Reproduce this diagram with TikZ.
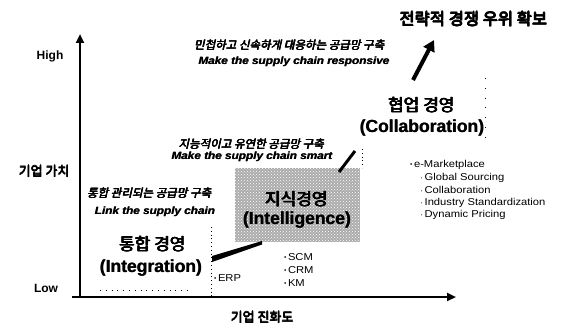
\documentclass[tikz,border=0pt]{standalone}
\usepackage{fontspec}
\setmainfont{Liberation Sans}
\newfontfamily\krb{Noto Sans CJK KR}
\newfontfamily\enwide[FakeStretch=1.12]{Liberation Sans}
\usetikzlibrary{arrows.meta,patterns}
\newcommand\mybul{{\fontsize{6}{6}\selectfont\raisebox{0.8pt}{•}}\,}
\newcommand\mydot{{\fontsize{8}{8}\selectfont ·}\,}
% overprinted (heavier) text
\newcommand\obold[1]{\rlap{#1}\kern0.55pt\rlap{#1}\kern-0.3pt\raisebox{0.3pt}{\rlap{#1}}\kern-0.25pt#1}
\newcommand\hbold[1]{\rlap{#1}\kern0.9pt\rlap{#1}\kern-0.45pt\raisebox{0.45pt}{\rlap{#1}}\raisebox{-0.2pt}{\rlap{#1}}\kern-0.45pt#1}
\newcommand\lbold[1]{\rlap{#1}\kern0.45pt#1}
% slanted text
\newcommand\slanttext[1]{\tikz[baseline=(sl.base)]\node[xslant=0.22,transform shape,inner sep=0pt,outer sep=0pt](sl){#1};}
\begin{document}
\begin{tikzpicture}[x=1pt,y=-1pt,
  every node/.style={inner sep=0pt,outer sep=0pt},
  axislbl/.style={font=\bfseries\fontsize{12}{12}\selectfont},
  krlbl/.style={font=\krb\fontsize{13}{13}\selectfont},
  stagekr/.style={font=\krb\fontsize{17}{17}\selectfont},
  stageen/.style={font=\bfseries\fontsize{17.5}{17.5}\selectfont},
  goalkr/.style={font=\krb\fontsize{11.5}{11.5}\selectfont},
  goalen/.style={font=\enwide\bfseries\itshape\fontsize{10.5}{10.5}\selectfont},
  listitem/.style={font=\enwide\fontsize{10}{10}\selectfont,anchor=west},
  axisline/.style={line width=2.4pt,-{Triangle[length=9pt,width=8pt]}},
  divider/.style={line width=0.7pt,dash pattern=on 0.8pt off 3pt},
  sparse/.style={line width=0.8pt,dash pattern=on 0.8pt off 9pt},
]
\useasboundingbox (0,0) rectangle (565,326);

% axes
\coordinate (o) at (80,297);
\coordinate (ytop) at (80,34);
\coordinate (xs) at (72,297);
\coordinate (xe) at (456,297);
\draw[axisline] (o) -- (ytop);
\draw[axisline] (xs) -- (xe);

\node[axislbl] (high) at (50,56) {High};
\node[axislbl] (low) at (46,288) {Low};
\node[krlbl] (yv) at (44,171) {\obold{기업 가치}};
\node[krlbl] (xv) at (262,317) {\obold{기업 진화도}};

% dividers
\coordinate (d1a) at (211,227); \coordinate (d1b) at (211,296);
\draw[divider] (d1a) -- (d1b);
\coordinate (d2a) at (362,149); \coordinate (d2b) at (362,168);
\draw[divider] (d2a) -- (d2b);
\coordinate (d3a) at (485,78); \coordinate (d3b) at (485,146);
\draw[sparse] (d3a) -- (d3b);
\coordinate (d4a) at (100,290); \coordinate (d4b) at (192,290);
\draw[sparse,dash pattern=on 0.8pt off 5pt] (d4a) -- (d4b);

% intelligence box
\node[fill=gray!65,minimum width=125pt,minimum height=74pt] (intel) at (297.5,205) {};
\fill[pattern=crosshatch dots,pattern color=white] (intel.north west) rectangle (intel.south east);
\node[stagekr] (intelkr) at (296,199) {\hbold{지식경영}};
\node[stageen] (intelen) at (297,220) {\lbold{(Intelligence)}};

% stages
\node[stagekr] (intkr) at (152,244) {\hbold{통합 경영}};
\node[stageen] (inten) at (151,268) {\lbold{(Integration)}};
\node[stagekr] (colkr) at (421,105) {\hbold{협업 경영}};
\node[stageen] (colen) at (422,128) {\lbold{(Collaboration)}};

% goals
\node[font=\krb\fontsize{16.5}{16.5}\selectfont] (goal) at (473,19) {\hbold{전략적 경쟁 우위 확보}};
\node[goalkr] (respkr) at (290,45) {\slanttext{\obold{민첩하고 신속하게 대응하는 공급망 구축}}};
\node[goalen] (respen) at (294,62) {\lbold{Make the supply chain responsive}};
\node[goalkr] (smartkr) at (252,144) {\slanttext{\obold{지능적이고 유연한 공급망 구축}}};
\node[goalen] (smarten) at (252,157) {\lbold{Make the supply chain smart}};
\node[goalkr] (linkkr) at (150,193) {\slanttext{\obold{통합 관리되는 공급망 구축}}};
\node[goalen] (linken) at (155,212) {\lbold{Link the supply chain}};

% transition marks
\coordinate (r1) at (413,80); \coordinate (r2) at (434,40);
\draw[line width=4pt,-{Triangle[length=11pt,width=12pt]}] (r1) -- (r2);
\coordinate (s1) at (339,172); \coordinate (s2) at (355,151);
\draw[line width=3pt] (s1) -- (s2);
\coordinate (w1) at (212,256); \coordinate (w2) at (262,241);
\coordinate (w3) at (262,244.5); \coordinate (w4) at (212,262);
\fill (w1) -- (w2) -- (w3) -- (w4) -- cycle;

% lists
\node[listitem] (erp) at (214,278) {\mybul ERP};
\node[listitem] (scm) at (284,257) {\mybul SCM};
\node[listitem] (crm) at (284,270) {\mybul CRM};
\node[listitem] (km) at (284,283) {\mybul KM};
\node[listitem] (emk) at (410,165) {\mybul e-Marketplace};
\node[listitem] (gs) at (420,177.5) {\mydot Global Sourcing};
\node[listitem] (cb) at (420,190) {\mydot Collaboration};
\node[listitem] (is) at (420,202.5) {\mydot Industry Standardization};
\node[listitem] (dp) at (420,215) {\mydot Dynamic Pricing};
\end{tikzpicture}
\end{document}
